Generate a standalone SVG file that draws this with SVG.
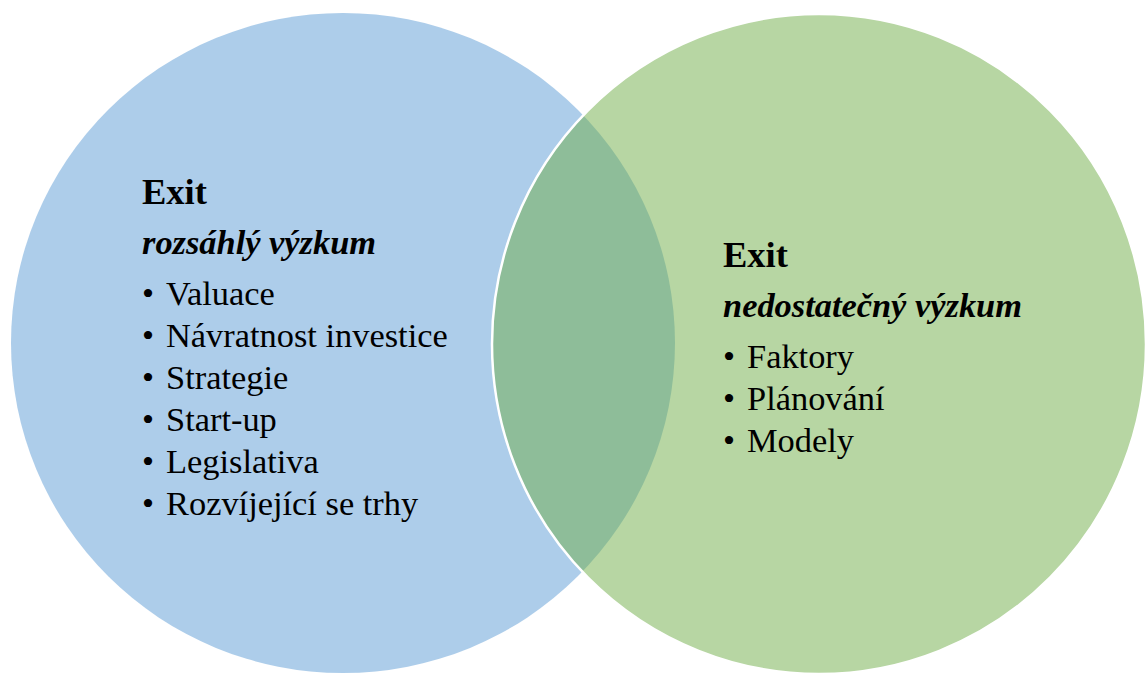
<svg xmlns="http://www.w3.org/2000/svg" width="1146" height="675" viewBox="0 0 1146 675">
  <style>
    .t { font-family: 'Liberation Serif', 'DejaVu Serif', serif; fill: #000000; }
    .title { font-size: 36.5px; font-weight: bold; }
    .sub { font-size: 34.4px; font-weight: bold; font-style: italic; }
    .item { font-size: 34.4px; }
  </style>
  <rect width="1146" height="675" fill="#ffffff"/>
  <g id="left-set">
    <ellipse cx="343" cy="343" rx="332" ry="330" fill="#5B9BD5" fill-opacity="0.5"/>
  </g>
  <g id="right-set">
    <ellipse cx="819" cy="344" rx="327" ry="330" fill="#70AD47" fill-opacity="0.5" stroke="#ffffff" stroke-width="2.5"/>
  </g>
  <g id="left-text" font-family="Liberation Serif">
    <text class="t title" x="142" y="204">Exit</text>
    <text class="t sub" x="142" y="254">rozsáhlý výzkum</text>
    <text class="t item" x="142" y="305">•</text><text class="t item" x="166" y="305">Valuace</text>
    <text class="t item" x="142" y="347">•</text><text class="t item" x="166" y="347">Návratnost investice</text>
    <text class="t item" x="142" y="389">•</text><text class="t item" x="166" y="389">Strategie</text>
    <text class="t item" x="142" y="431">•</text><text class="t item" x="166" y="431">Start-up</text>
    <text class="t item" x="142" y="473">•</text><text class="t item" x="166" y="473">Legislativa</text>
    <text class="t item" x="142" y="515">•</text><text class="t item" x="166" y="515">Rozvíjející se trhy</text>
  </g>
  <g id="right-text" font-family="Liberation Serif">
    <text class="t title" x="723" y="267">Exit</text>
    <text class="t sub" x="723" y="317">nedostatečný výzkum</text>
    <text class="t item" x="723" y="368">•</text><text class="t item" x="747" y="368">Faktory</text>
    <text class="t item" x="723" y="410">•</text><text class="t item" x="747" y="410">Plánování</text>
    <text class="t item" x="723" y="452">•</text><text class="t item" x="747" y="452">Modely</text>
  </g>
  <g id="connectors"/>
</svg>
